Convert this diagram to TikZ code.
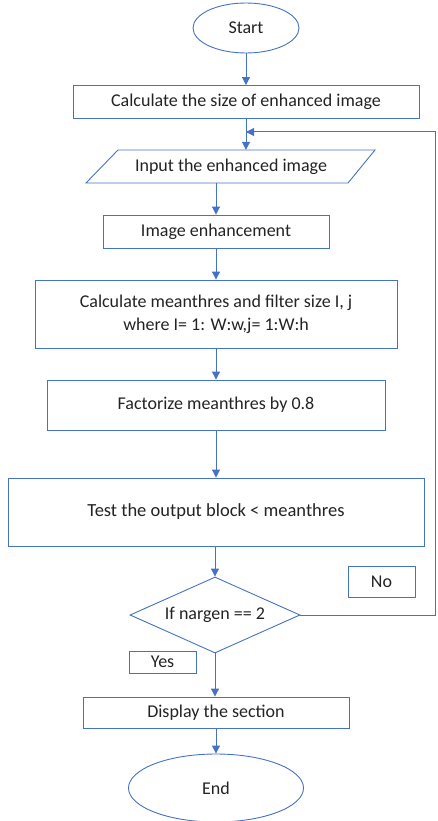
\documentclass[tikz,border=0pt]{standalone}
\usepackage{fontspec}
\setmainfont{Carlito}
\usetikzlibrary{shapes.geometric,arrows.meta}
\definecolor{flowblue}{RGB}{68,114,196}
\definecolor{txt}{RGB}{35,35,35}
\begin{document}
\begin{tikzpicture}[x=1pt,y=-1pt,
  every node/.style={font=\fontsize{18}{23}\selectfont, text=txt},
  boxst/.style={draw=flowblue, line width=0.9pt, rectangle, inner sep=0pt, align=center},
  ovalst/.style={draw=flowblue, line width=0.9pt, ellipse, inner sep=0pt},
  flow/.style={draw=flowblue, line width=1pt, -{Triangle[length=8pt,width=8pt]}},
  plain/.style={draw=flowblue, line width=1pt}]
\useasboundingbox (0,0) rectangle (438,821);
% terminals and process blocks
\node[ovalst, minimum width=106, minimum height=50] (start) at (246,28) {Start};
\node[boxst, minimum width=346, minimum height=33] (size) at (246,102) {Calculate the size of enhanced image};
% input/output parallelogram
\node[inner sep=0pt, minimum width=257, minimum height=33] (input) at (231,166.5) {Input the enhanced image};
\draw[flowblue, line width=0.9pt] (118,150) -- (375,150) -- (348,183) -- (86,183) -- cycle;
\node[boxst, minimum width=226, minimum height=33] (enh) at (216,231.5) {Image enhancement};
\node[boxst, minimum width=362, minimum height=68] (mean) at (216,314) {Calculate meanthres and filter size I, j\\where I= 1: W:w,j= 1:W:h};
\node[boxst, minimum width=338, minimum height=50] (fact) at (216,405) {Factorize meanthres by 0.8};
\node[boxst, minimum width=416, minimum height=68, font=\fontsize{18.5}{23}\selectfont] (test) at (216,512) {Test the output block {<} meanthres};
\node[boxst, diamond, aspect=2.24, minimum width=170, minimum height=76] (dec) at (215,615) {If nargen == 2};
\node[boxst, minimum width=67, minimum height=31] (no) at (381.5,581.5) {No};
\node[boxst, minimum width=67, minimum height=22] (yes) at (162.5,662) {Yes};
\node[boxst, minimum width=266, minimum height=31] (disp) at (216,712.5) {Display the section};
\node[ovalst, minimum width=175, minimum height=68] (end) at (216,788) {End};
% loop-back points
\coordinate (r1) at (435,615);
\coordinate (r2) at (435,132);
\coordinate (m1) at (246,132);
% connectors
\draw[flow] (start) -- (size);
\draw[flow] (size.south) -- (size.south |- input.north);
\draw[flow] (input.south -| enh.north) -- (enh.north);
\draw[flow] (enh) -- (mean);
\draw[flow] (mean) -- (fact);
\draw[flow] (fact.south) -- (fact.south |- test.north);
\draw[flow] (test.south -| dec.north) -- (dec.north);
\draw[flow] (dec.south) -- (disp.north -| dec.south);
\draw[flow] (disp.south -| end.north) -- (end.north);
\draw[plain] (dec.east) -- (r1) -- (r2) -- (m1);
\draw[flow] (r2) -- (m1);
\end{tikzpicture}
\end{document}
